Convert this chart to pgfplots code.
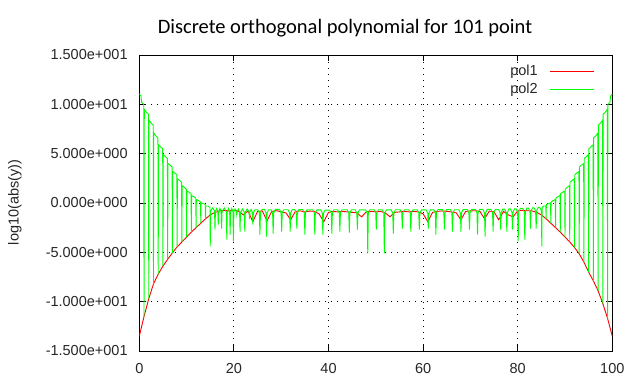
\documentclass[border=0pt]{standalone}
\usepackage{pgfplots}
\pgfplotsset{compat=1.18}
\usepackage{fontspec}
\setmainfont{Liberation Sans}
\newfontfamily\calibri{Carlito}
\definecolor{gpgreen}{RGB}{0,255,0}
\definecolor{gpred}{RGB}{255,0,0}
\begin{document}
\begin{tikzpicture}[x=1bp,y=1bp]
\begin{axis}[
  at={(0,0)}, anchor=south west,
  scale only axis, width=473bp, height=296bp,
  xmin=0, xmax=100, ymin=-15, ymax=15,
  xtick={0,20,40,60,80,100},
  ytick={-15,-10,-5,0,5,10,15},
  yticklabels={-1.500e+001,-1.000e+001,-5.000e+000,0.000e+000,5.000e+000,1.000e+001,1.500e+001},
  /pgf/number format/assume math mode=true,
  ticklabel style={font=\fontsize{14.5bp}{17bp}\selectfont, text=black!85},
  xticklabel style={anchor=north, inner sep=0pt, yshift=-12bp},
  yticklabel style={anchor=east, inner sep=0pt, xshift=-11.5bp},
  axis line style={black, line width=1bp},
  tick style={black, line width=1bp},
  major tick length=6bp, tick align=inside,
  grid=major,
  grid style={black, line width=0.9bp, dash pattern=on 1bp off 5bp},
  legend plot pos=right,
  legend cell align=right,
  legend image code/.code={\draw[#1, line width=1.1bp] (0bp,0bp) -- (44bp,0bp);},
  legend style={at={(0.9634,0.9696)}, anchor=north east, draw=none, fill=none,
    inner sep=0pt, font=\fontsize{14.5bp}{17bp}\selectfont, row sep=4bp,
    column sep=11bp,
    nodes={inner sep=1bp, text=black!85}},
]
\addplot[gpred, line width=0.9bp, mark=none] table {
0 -13.5
1 -11.5
2 -9.7
3 -8.2
4 -7.2
5 -6.4
6 -5.7
7 -5.05
8 -4.45
9 -3.95
10 -3.45
11 -2.95
12 -2.5
13 -2.05
14 -1.6
15 -1.2
16 -0.95
17 -0.8
18 -0.75
19 -0.8
20 -0.72
21 -0.85
22 -1.2
23 -0.8
24 -1.9
25 -0.85
26 -0.8
27 -1.8
28 -0.85
29 -0.78
30 -0.9
31 -1.0
32 -1.7
33 -0.85
34 -0.8
35 -0.9
36 -0.82
37 -0.85
38 -1.1
39 -1.9
40 -0.95
41 -0.85
42 -0.9
43 -0.85
44 -0.9
45 -0.95
46 -1.0
47 -1.4
48 -0.9
49 -0.85
50 -0.9
51 -0.85
52 -1.0
53 -1.4
54 -0.95
55 -0.9
56 -0.85
57 -0.9
58 -0.85
59 -0.9
60 -1.1
61 -1.9
62 -0.95
63 -0.85
64 -0.8
65 -0.85
66 -0.9
67 -1.0
68 -1.7
69 -0.85
70 -0.8
71 -0.78
72 -0.85
73 -1.6
74 -0.82
75 -0.9
76 -1.7
77 -0.85
78 -1.2
79 -1.4
80 -0.8
81 -0.75
82 -0.78
83 -0.8
84 -0.95
85 -1.2
86 -1.6
87 -2.05
88 -2.5
89 -2.95
90 -3.45
91 -3.95
92 -4.5
93 -5.15
94 -6.0
95 -7.0
96 -7.9
97 -8.9
98 -10.2
99 -11.7
100 -13.5
};
\addlegendentry{pol1}
\addplot[gpgreen, line width=0.9bp, mark=none] table {
0 11.05
0.35 10.85
0.5 10.2
0.94 10.0
1 -11.5
1.06 9.5
1.5 9.2
1.94 9.0
2 -9.7
2.06 8.4
2.5 8.1
2.94 7.9
3 -8.2
3.06 7.1
3.5 6.8
3.94 6.6
4 -7.2
4.06 5.9
4.5 5.7
4.94 5.5
5 -6.4
5.06 4.9
5.5 4.7
5.94 4.5
6 -5.7
6.06 4.0
6.5 3.85
6.94 3.65
7 -5.05
7.06 3.2
7.5 3.05
7.94 2.85
8 -4.45
8.06 2.45
8.5 2.3
8.94 2.1
9 -3.95
9.06 1.75
9.5 1.6
9.94 1.4
10 -3.45
10.06 1.2
10.5 1.1
10.94 0.95
11 -2.95
11.06 0.75
11.5 0.65
11.94 0.5
12 -2.5
12.06 0.35
12.5 0.25
12.94 0.1
13 -2.05
13.06 0.0
13.5 -0.05
13.94 -0.15
14 -1.7
14.06 -0.3
14.5 -0.3
14.94 -0.45
15 -4.4
15.1 -0.8
15.5 -0.5
15.9 -0.8
16 -2.7
16.1 -0.85
16.35 -0.55
16.6 -0.85
16.7 -2.2
16.8 -0.85
17.05 -0.55
17.3 -0.85
17.4 -2.6
17.5 -0.9
17.95 -0.5
18.4 -0.9
18.5 -3.7
18.6 -0.9
18.85 -0.55
19.1 -0.9
19.2 -3.2
19.3 -0.9
19.55 -0.55
19.8 -0.9
19.9 -3.9
20.0 -0.9
20.25 -0.6
20.5 -0.85
20.6 -1.2
20.7 -0.85
20.95 -0.6
21.2 -0.9
21.3 -2.9
21.4 -0.95
21.8 -0.6
22.2 -0.95
22.3 -2.9
22.4 -0.95
22.8 -0.6
23.2 -0.9
23.3 -1.6
23.4 -0.9
23.65 -0.65
23.9 -0.95
24.0 -2.2
24.12 -1.0
24.45 -0.68
25.05 -0.68
25.38 -1.0
25.5 -3.2
25.62 -1.0
25.95 -0.65
26.45 -0.65
26.78 -1.0
26.9 -3.4
27.02 -1.0
27.35 -0.68
27.85 -0.68
28.18 -1.0
28.3 -3.1
28.42 -1.0
28.75 -0.65
29.65 -0.65
29.98 -1.0
30.1 -2.9
30.22 -1.0
30.55 -0.68
31.45 -0.68
31.78 -1.0
31.9 -2.9
32.02 -1.0
32.35 -0.66
32.85 -0.66
33.18 -1.0
33.3 -2.6
33.42 -1.0
33.75 -0.66
34.55 -0.66
34.88 -1.0
35.0 -3.2
35.12 -1.0
35.45 -0.68
36.65 -0.68
36.98 -1.0
37.1 -3.2
37.22 -1.0
37.55 -0.7
38.35 -0.7
38.68 -1.0
38.8 -3.2
38.92 -1.05
39.25 -0.72
40.25 -0.72
40.58 -1.0
40.7 -3.1
40.82 -1.0
41.15 -0.68
41.95 -0.68
42.28 -1.0
42.4 -2.9
42.52 -1.0
42.85 -0.68
43.95 -0.68
44.28 -1.0
44.4 -3.0
44.52 -1.0
44.85 -0.68
45.65 -0.68
45.98 -1.0
46.1 -2.7
46.22 -1.0
46.55 -0.7
47.85 -0.7
48.18 -1.0
48.3 -5.1
48.42 -1.0
48.75 -0.68
49.65 -0.68
49.98 -1.0
50.1 -2.7
50.22 -1.0
50.55 -0.68
51.35 -0.68
51.68 -1.0
51.8 -5.1
51.92 -1.0
52.25 -0.7
53.25 -0.7
53.58 -1.0
53.7 -3.1
53.82 -1.0
54.15 -0.68
55.15 -0.68
55.48 -1.0
55.6 -2.6
55.72 -1.0
56.05 -0.68
56.95 -0.68
57.28 -1.0
57.4 -2.9
57.52 -1.0
57.85 -0.68
58.75 -0.68
59.08 -1.0
59.2 -2.7
59.32 -1.0
59.65 -0.7
60.65 -0.7
60.98 -1.05
61.1 -2.6
61.22 -1.05
61.55 -0.7
62.25 -0.68
62.58 -1.0
62.7 -3.2
62.82 -1.0
63.15 -0.66
64.05 -0.66
64.38 -1.0
64.5 -2.7
64.62 -1.0
64.95 -0.66
65.75 -0.66
66.08 -1.0
66.2 -2.9
66.32 -1.0
66.65 -0.68
67.55 -0.68
67.88 -1.0
68.0 -2.9
68.12 -1.0
68.45 -0.66
69.35 -0.66
69.68 -1.0
69.8 -2.7
69.92 -1.0
70.25 -0.65
71.05 -0.65
71.38 -1.0
71.5 -3.2
71.62 -1.0
71.95 -0.65
72.65 -0.65
72.98 -1.0
73.1 -3.4
73.22 -1.0
73.55 -0.65
74.35 -0.65
74.68 -1.0
74.8 -2.9
74.92 -1.0
75.25 -0.66
75.95 -0.66
76.28 -1.0
76.4 -2.7
76.52 -0.95
76.85 -0.62
77.25 -0.62
77.58 -0.95
77.7 -2.9
77.82 -0.95
78.15 -0.6
78.45 -0.6
78.78 -0.95
78.9 -2.7
79.02 -0.9
79.35 -0.58
79.65 -0.58
79.98 -0.9
80.1 -3.9
80.22 -0.9
80.55 -0.55
81.05 -0.55
81.38 -0.9
81.5 -3.7
81.62 -0.85
81.95 -0.52
82.25 -0.52
82.58 -0.85
82.7 -2.6
82.82 -0.8
83.15 -0.48
83.45 -0.48
83.78 -0.8
83.9 -2.6
84.02 -0.75
84.35 -0.45
84.65 -0.45
84.98 -0.75
85.1 -4.4
85.16 -0.45
85.5 -0.3
85.94 -0.3
86 -1.6
86.06 -0.15
86.5 -0.05
86.94 0.0
87 -2.05
87.06 0.1
87.5 0.25
87.94 0.35
88 -2.5
88.06 0.5
88.5 0.65
88.94 0.75
89 -2.95
89.06 0.95
89.5 1.1
89.94 1.2
90 -3.45
90.06 1.4
90.5 1.6
90.94 1.75
91 -3.95
91.06 2.1
91.5 2.3
91.94 2.45
92 -4.5
92.06 2.85
92.5 3.05
92.94 3.2
93 -5.15
93.06 3.65
93.5 3.85
93.94 4.0
94 -6.0
94.06 4.5
94.5 4.7
94.94 4.9
95 -7.0
95.06 5.5
95.5 5.7
95.94 5.9
96 -7.9
96.06 6.6
96.5 6.8
96.94 7.1
97 -8.9
97.06 7.9
97.5 8.1
97.94 8.4
98 -10.2
98.06 9.0
98.5 9.2
98.94 9.5
99 -11.7
99.06 10.0
99.5 10.2
99.65 10.85
100 11.05
};
\addlegendentry{pol2}
\end{axis}
\node[font=\calibri\fontsize{20.5bp}{24bp}\selectfont, anchor=base] at (205.7,317.7) {Discrete orthogonal polynomial for 101 point};
\node[rotate=90, font=\fontsize{14.5bp}{17bp}\selectfont, text=black!85] at (-124.3,148.5) {log10(abs(y))};
\pgfresetboundingbox
\path[use as bounding box] (-139.3,-36) rectangle (500.7,351);
\end{tikzpicture}
\end{document}
